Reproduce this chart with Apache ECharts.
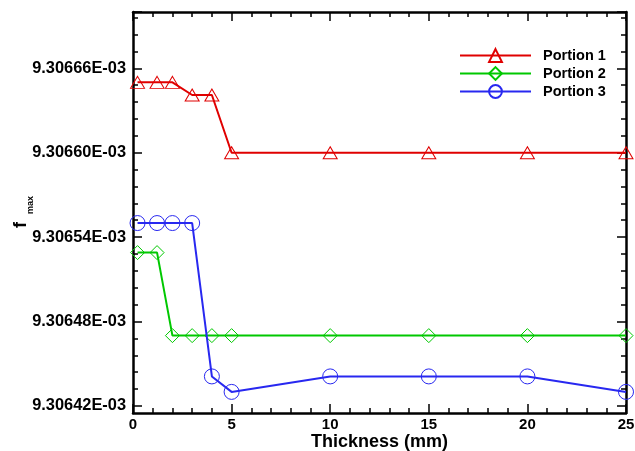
<!DOCTYPE html>
<html>
<head>
<meta charset="utf-8">
<script src="https://cdn.jsdelivr.net/npm/echarts@6/dist/echarts.min.js"></script>
<style>html,body{margin:0;padding:0;background:#fff}#c{width:635px;height:451px}</style>
</head>
<body>
<div id="c"></div>
<script>
// Thickness (mm)
var thickness = [0.23, 1.22, 2, 3, 4, 5, 10, 15, 20, 25];
// f_max mantissas (x 1E-03)
var portion1 = [9.30665, 9.30665, 9.30665, 9.306641, 9.306641, 9.30660, 9.30660, 9.30660, 9.30660, 9.30660];
var portion2 = [9.306529, 9.306529, 9.30647, 9.30647, 9.30647, 9.30647, 9.30647, 9.30647, 9.30647, 9.30647];
var portion3 = [9.30655, 9.30655, 9.30655, 9.30655, 9.306441, 9.30643, 9.306441, 9.306441, 9.306441, 9.30643];
var seriesNames = ['Portion 1', 'Portion 2', 'Portion 3'];
var xTicks = [0, 5, 10, 15, 20, 25];
var yTickLabels = ['9.30642E-03', '9.30648E-03', '9.30654E-03', '9.30660E-03', '9.30666E-03'];

function scaled(m) { return Math.round(m * 1e6) / 10; } // units of 1E-08
function pairs(arr) { return thickness.map(function (x, i) { return [x, scaled(arr[i])]; }); }

var font = 'Liberation Sans, Arial, Helvetica, sans-serif';
var colors = ['#e00000', '#00c800', '#2828f0'];
var symbols = ['triangle', 'diamond', 'circle'];
var sizes = [[14, 12], 14, 15];
var yMin = 930641.5, yMax = 930670, yTickStart = 930642;
var yLabelMap = {};
yTickLabels.forEach(function (s) { yLabelMap[Math.round(parseFloat(s) * 1e8)] = s; });

var gridTop = 12, gridBottom = 38, H = 451 - gridTop - gridBottom;
var tickGridBottom = gridBottom + (yTickStart - yMin) / (yMax - yMin) * H;

function lineAxis(pos) {
  return {
    type: 'value', gridIndex: 0, position: pos, min: yMin, max: yMax,
    axisLine: { show: true, onZero: false, lineStyle: { color: '#000', width: 2.5 } },
    axisTick: { show: false }, axisLabel: { show: false }, splitLine: { show: false }
  };
}
function tickAxis(pos, major, showLabel) {
  return {
    type: 'value', gridIndex: 1, position: pos, min: yTickStart, max: yMax,
    interval: major ? 6 : 1.2,
    axisLine: { show: false, onZero: false },
    axisTick: { show: true, inside: true, length: major ? 9 : 5, lineStyle: { color: '#000', width: 1.5 } },
    axisLabel: {
      show: showLabel, margin: 7, color: '#000', fontFamily: font, fontWeight: 'bold', fontSize: 16.4,
      formatter: function (v) { var k = Math.round(v); return Math.abs(v - k) < 1e-6 && yLabelMap[k] ? yLabelMap[k] : ''; }
    },
    splitLine: { show: false }
  };
}
function xAxisDef(pos, showLabel) {
  return {
    type: 'value', gridIndex: 0, position: pos, min: 0, max: 25, interval: 5,
    axisLine: { show: true, onZero: false, lineStyle: { color: '#000', width: 2.5 } },
    axisTick: { show: true, inside: true, length: 9, lineStyle: { color: '#000', width: 1.5 } },
    minorTick: { show: true, splitNumber: 5, length: 5, lineStyle: { color: '#000', width: 1.5 } },
    axisLabel: {
      show: showLabel, margin: 4, color: '#000', fontFamily: font, fontWeight: 'bold', fontSize: 15,
      formatter: function (v) { return xTicks.indexOf(v) >= 0 ? String(v) : ''; }
    },
    splitLine: { show: false },
    name: showLabel ? 'Thickness (mm)' : '', nameLocation: 'middle', nameGap: 29, nameMoveOverlap: false,
    nameTextStyle: { color: '#000', fontFamily: font, fontWeight: 'bold', fontSize: 18, verticalAlign: 'middle' }
  };
}

var series = [portion1, portion2, portion3].map(function (arr, i) {
  return {
    name: seriesNames[i], type: 'line', data: pairs(arr), xAxisIndex: 0, yAxisIndex: 0,
    symbol: symbols[i], symbolSize: sizes[i],
    lineStyle: { color: colors[i], width: 2 },
    itemStyle: { color: 'rgba(255,255,255,0)', borderColor: colors[i], borderWidth: 1 },
    emphasis: { disabled: true }, animation: false, z: 3 + i
  };
});

var chart = echarts.init(document.getElementById('c'), null, { renderer: 'canvas' });
chart.setOption({
  animation: false,
  backgroundColor: '#fff',
  grid: [
    { left: 133, right: 9, top: gridTop, bottom: gridBottom, containLabel: false, outerBoundsMode: 'none' },
    { left: 133, right: 9, top: gridTop, bottom: tickGridBottom, containLabel: false, outerBoundsMode: 'none' }
  ],
  xAxis: [xAxisDef('bottom', true), xAxisDef('top', false),
    { type: 'value', gridIndex: 1, min: 0, max: 25, show: false }],
  yAxis: [lineAxis('left'), lineAxis('right'),
    tickAxis('left', true, true), tickAxis('left', false, false),
    tickAxis('right', true, false), tickAxis('right', false, false)],
  legend: {
    orient: 'vertical', left: 454, top: 43, itemWidth: 71, itemHeight: 16, itemGap: 3,
    data: seriesNames,
    textStyle: { color: '#000', fontFamily: font, fontWeight: 'bold', fontSize: 14.5, padding: [0, 0, 0, 7] }
  },
  graphic: [
    { type: 'text', x: 21, y: 228, rotation: Math.PI / 2,
      style: { text: 'f', fill: '#000', font: 'bold 18px ' + font, textAlign: 'left', textVerticalAlign: 'middle' } },
    { type: 'text', x: 30.5, y: 214, rotation: Math.PI / 2,
      style: { text: 'max', fill: '#000', font: 'bold 9px ' + font, textAlign: 'left', textVerticalAlign: 'middle' } }
  ],
  series: series
});
</script>
</body>
</html>
